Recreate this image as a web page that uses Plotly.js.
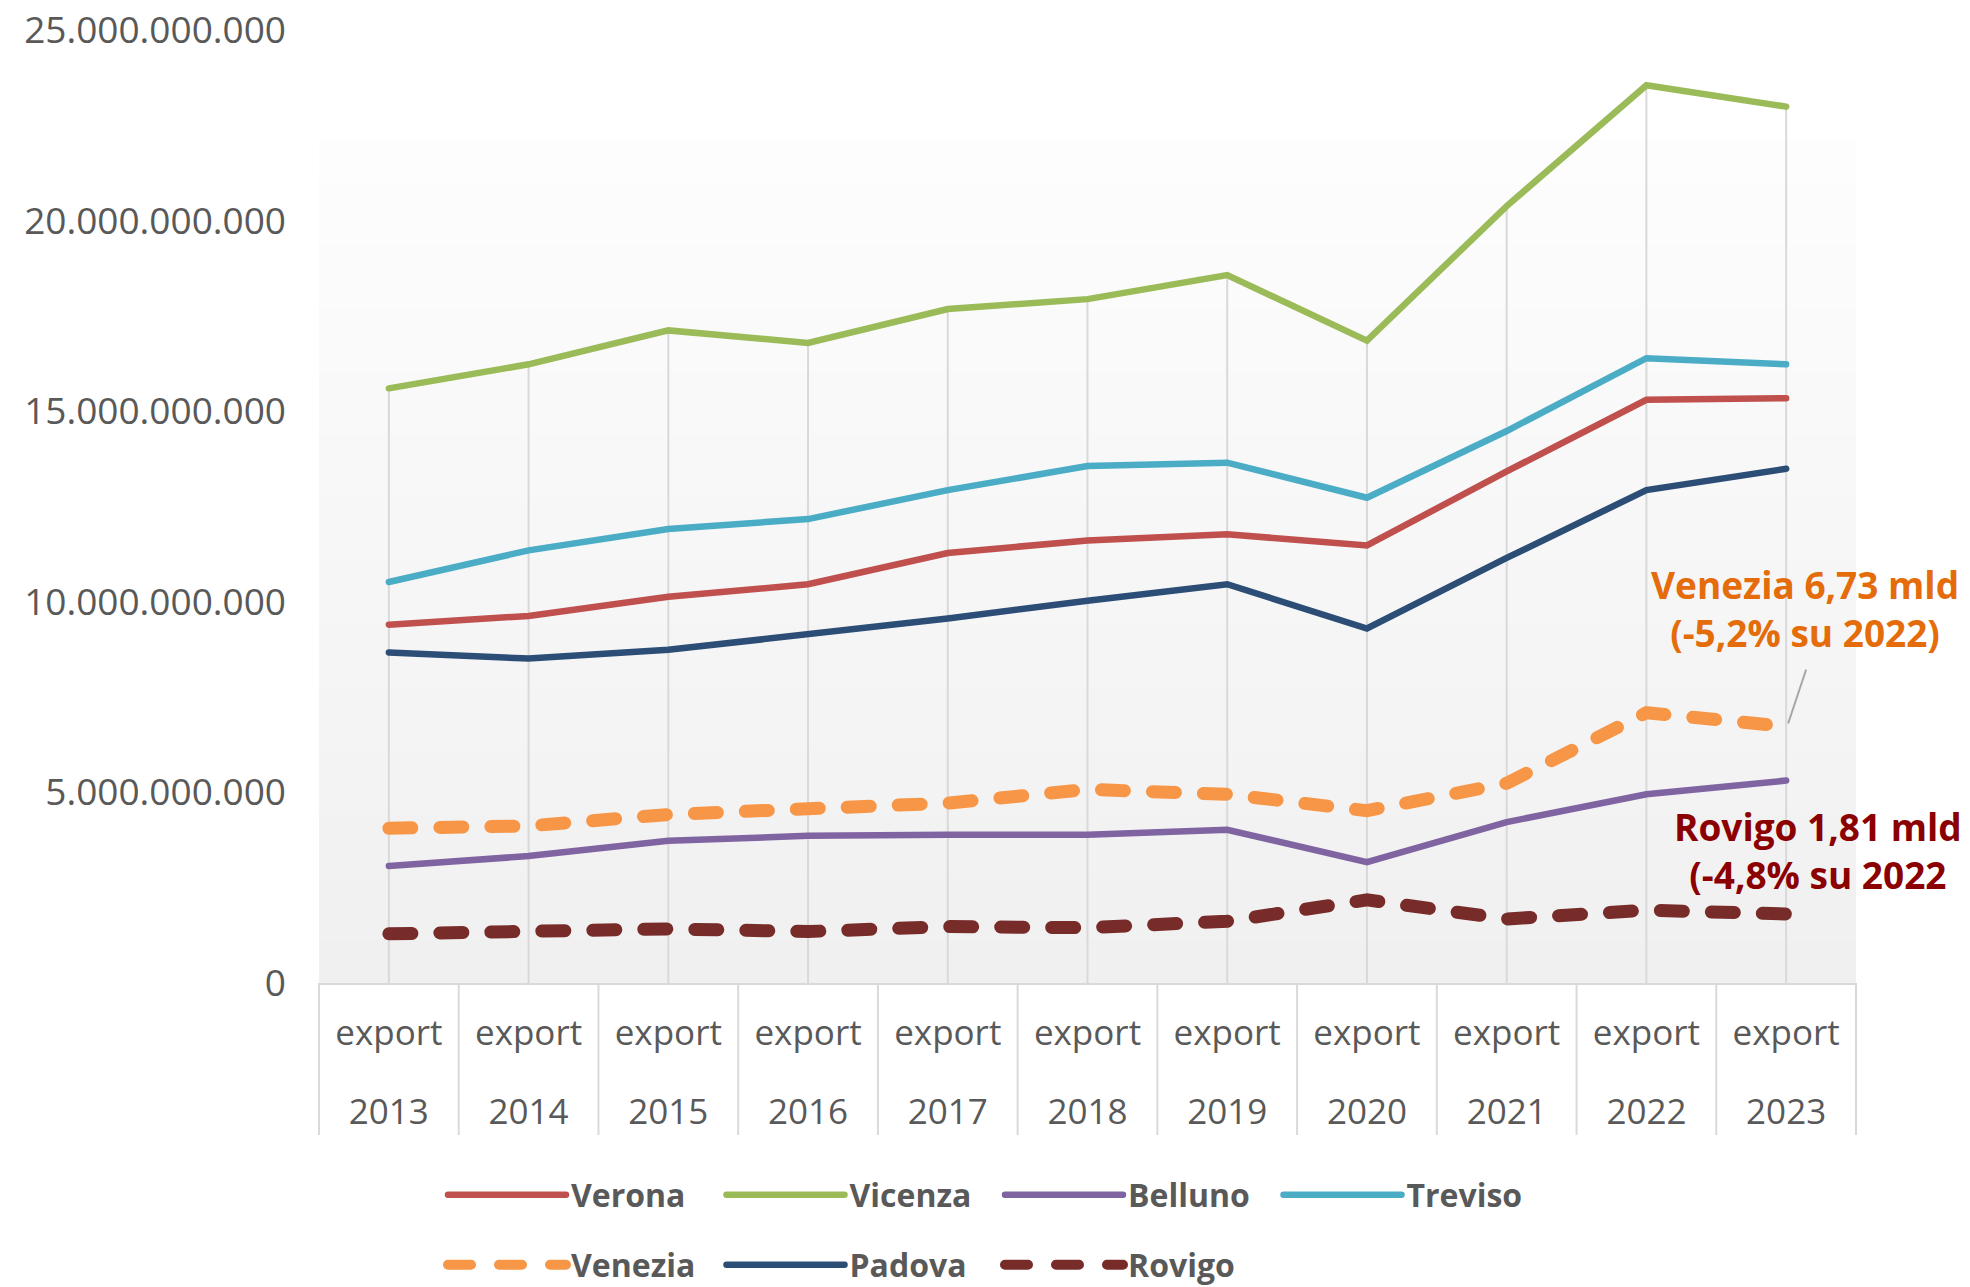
<!DOCTYPE html>
<html>
<head>
<meta charset="utf-8">
<script src="https://cdn.plot.ly/plotly-3.0.1.min.js"></script>
<style>
html,body{margin:0;padding:0;background:#ffffff;}
#chart{width:1970px;height:1287px;}
.js-line{stroke-linecap:round;}
</style>
</head>
<body>
<div id="chart"></div>
<script>
// ---- data ----
const years = ['2013','2014','2015','2016','2017','2018','2019','2020','2021','2022','2023'];
const tickPrefix = 'export';
const verona  = [9.40e9, 9.63e9, 10.13e9, 10.46e9, 11.28e9, 11.61e9, 11.77e9, 11.48e9, 13.42e9, 15.30e9, 15.34e9];
const vicenza = [15.60e9, 16.23e9, 17.12e9, 16.79e9, 17.68e9, 17.94e9, 18.57e9, 16.85e9, 20.38e9, 23.55e9, 22.99e9];
const belluno = [3.07e9, 3.33e9, 3.73e9, 3.86e9, 3.89e9, 3.89e9, 4.02e9, 3.17e9, 4.22e9, 4.95e9, 5.31e9];
const treviso = [10.52e9, 11.35e9, 11.91e9, 12.17e9, 12.93e9, 13.56e9, 13.65e9, 12.73e9, 14.48e9, 16.39e9, 16.23e9];
const venezia = [4.06e9, 4.12e9, 4.42e9, 4.58e9, 4.72e9, 5.08e9, 4.95e9, 4.52e9, 5.24e9, 7.09e9, 6.73e9];
const padova  = [8.67e9, 8.51e9, 8.74e9, 9.14e9, 9.56e9, 10.03e9, 10.46e9, 9.30e9, 11.15e9, 12.93e9, 13.49e9];
const rovigo  = [1.29e9, 1.35e9, 1.42e9, 1.35e9, 1.48e9, 1.45e9, 1.62e9, 2.18e9, 1.68e9, 1.91e9, 1.81e9];
const yTicks = [0, 5e9, 10e9, 15e9, 20e9, 25e9];
const venText = 'Venezia 6,73 mld<br>(-5,2% su 2022)';
const rovText = 'Rovigo 1,81 mld<br>(-4,8% su 2022';

// ---- styles ----
const FONT = 'Open Sans, Lato, Liberation Sans, sans-serif';
const GREY = '#595959';
const series = [
  {name:'Verona',  y:verona,  color:'#C0504D', dash:'solid', width:6.5, legend:'legend'},
  {name:'Vicenza', y:vicenza, color:'#9BBB59', dash:'solid', width:6.5, legend:'legend'},
  {name:'Belluno', y:belluno, color:'#8064A2', dash:'solid', width:6.5, legend:'legend'},
  {name:'Treviso', y:treviso, color:'#4BACC6', dash:'solid', width:6.5, legend:'legend'},
  {name:'Venezia', y:venezia, color:'#F79646', dash:'23px,28px', width:13, legend:'legend2'},
  {name:'Padova',  y:padova,  color:'#2C4D75', dash:'solid', width:6.5, legend:'legend2'},
  {name:'Rovigo',  y:rovigo,  color:'#772C2A', dash:'23px,28px', width:13, legend:'legend2'}
];

// drop lines (from highest series value down to the axis)
const dropX = [], dropY = [];
years.forEach((yr, i) => {
  const m = Math.max(...series.map(s => s.y[i]));
  dropX.push(yr, yr, null);
  dropY.push(0, m, null);
});

const traces = [{
  x: dropX, y: dropY, mode: 'lines', type: 'scatter',
  line: {color: '#d9d9d9', width: 2}, showlegend: false, hoverinfo: 'skip'
}];
series.forEach(s => traces.push({
  x: years, y: s.y, name: s.name, type: 'scatter', mode: 'lines',
  line: {color: s.color, width: s.width, dash: s.dash},
  legend: s.legend
}));
// carrier for the second (year) label row
traces.push({x: years, y: years.map(() => null), xaxis: 'x2', mode: 'lines',
  showlegend: false, hoverinfo: 'skip'});

// plot-area gradient bands (fill starts a little below the top of the axis)
const shapes = [];
const NB = 40;
const fillTop = (983 - 140) / 953;
for (let k = 0; k < NB; k++) {
  const t0 = k / NB, t1 = (k + 1) / NB;
  const v = Math.round(240 + (253 - 240) * (t0 + t1) / 2);
  shapes.push({type:'rect', xref:'paper', yref:'paper', x0:0, x1:1,
    y0:t0 * fillTop, y1:Math.min(t1 * fillTop + 0.001, fillTop),
    fillcolor:'rgb(' + v + ',' + v + ',' + v + ')', line:{width:0}, layer:'below'});
}
// category separators below the axis
const plotH = 1287 - 30 - 304;
for (let i = 0; i <= years.length; i++) {
  shapes.push({type:'line', xref:'paper', yref:'paper', x0:i/years.length, x1:i/years.length,
    y0:0, y1:-152/plotH, line:{color:'#d9d9d9', width:2}});
}
// leader line for the Venezia label, anchored at the last Venezia point
shapes.push({type:'line', xref:'x', yref:'y', xsizemode:'pixel', ysizemode:'pixel',
  xanchor: years.length - 1, yanchor: venezia[venezia.length - 1],
  x0:2, y0:3, x1:20, y1:57, line:{color:'#a6a6a6', width:2}});

const legendCommon = {
  orientation:'h', xref:'container', yref:'container', xanchor:'left', yanchor:'middle',
  entrywidth:145.5, entrywidthmode:'pixels', itemwidth:118, bgcolor:'rgba(0,0,0,0)',
  font:{family:FONT, size:32, color:GREY, weight:'bold'}, valign:'middle', traceorder:'normal'
};

const layout = {
  width:1970, height:1287,
  margin:{l:319, r:114, t:30, b:304},
  paper_bgcolor:'#ffffff', plot_bgcolor:'#ffffff',
  separators:',.',
  showlegend:true,
  xaxis:{
    type:'category', categoryorder:'array', categoryarray:years, range:[-0.5, years.length-0.5],
    showgrid:false, zeroline:false, showline:true, linecolor:'#d9d9d9', linewidth:2,
    ticks:'', tickmode:'array', tickvals:years, ticktext:years.map(() => tickPrefix),
    tickfont:{family:FONT, size:35, color:GREY}, ticklabelstandoff:18, fixedrange:true
  },
  xaxis2:{
    type:'category', categoryorder:'array', categoryarray:years, range:[-0.5, years.length-0.5],
    overlaying:'x', anchor:'y', side:'bottom',
    showgrid:false, zeroline:false, showline:false, ticks:'',
    tickmode:'array', tickvals:years, ticktext:years,
    tickfont:{family:FONT, size:35, color:GREY}, ticklabelstandoff:105, fixedrange:true
  },
  yaxis:{
    range:[0, 25e9], tickmode:'array', tickvals:yTicks, tickformat:',d',
    showgrid:false, zeroline:false, showline:false, ticks:'',
    tickfont:{family:FONT, size:37, color:GREY}, ticklabelstandoff:32, fixedrange:true
  },
  legend: Object.assign({}, legendCommon, {x:443/1970, y:1 - 1195/1287}),
  legend2: Object.assign({}, legendCommon, {x:443/1970, y:1 - 1265/1287}),
  shapes: shapes,
  annotations:[
    {x:(1805-319)/1537, y:(983-608)/953, xref:'paper', yref:'paper', showarrow:false,
     text:venText, xanchor:'center', yanchor:'middle', align:'center',
     font:{family:FONT, size:37, color:'#E46C0A', weight:'bold'}},
    {x:(1818-319)/1537, y:(983-850)/953, xref:'paper', yref:'paper', showarrow:false,
     text:rovText, xanchor:'center', yanchor:'middle', align:'center',
     font:{family:FONT, size:37, color:'#8B0000', weight:'bold'}}
  ]
};

Plotly.newPlot('chart', traces, layout, {staticPlot:true, displayModeBar:false});
</script>
</body>
</html>
